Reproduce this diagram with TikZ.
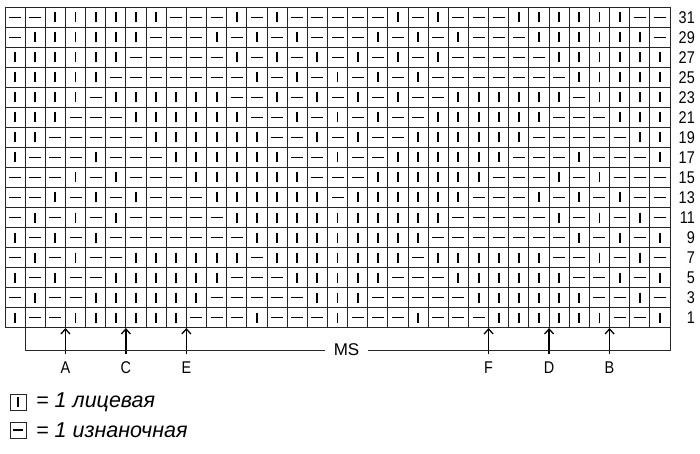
\documentclass[tikz,border=0pt]{standalone}
\usepackage{fontspec}
\setmainfont[FakeStretch=0.85]{Liberation Sans}
\newfontfamily\widefont{Liberation Sans}
\usetikzlibrary{arrows.meta}
\begin{document}
\begin{tikzpicture}[x=1pt,y=-1pt,
  gridline/.style={line width=0.9pt, draw=black!85},
  sym/.style={line width=1.9pt, draw=black},
  lbl/.style={font=\fontsize{17}{17}\selectfont, inner sep=0pt},
  legtxt/.style={font=\widefont\fontsize{21.5}{21.5}\selectfont\itshape, inner sep=0pt, anchor=west},
  arr/.style={line width=1.3pt, -{Straight Barb[length=5pt,width=9pt]}},
  brk/.style={line width=0.9pt, draw=black!85},
  legbox/.style={draw=black!85, line width=0.9pt, minimum width=16pt, minimum height=16pt, inner sep=0pt}
]
\useasboundingbox (0,0) rectangle (700,454);
\def\w{20.1515}
% chart symbols (top row = row 31)
\foreach \lst [count=\i from 0] in {
 {p,p,k,k,k,k,k,k,p,p,p,k,p,k,p,p,p,p,p,k,p,k,p,p,p,k,k,k,k,k,k,p,p},
 {p,k,k,k,k,k,k,p,p,p,k,p,k,p,k,p,p,p,k,p,k,p,k,p,p,p,k,k,k,k,k,k,p},
 {k,k,k,k,k,k,p,p,p,p,p,k,p,k,p,k,p,k,p,k,p,k,p,p,p,p,p,k,k,k,k,k,k},
 {k,k,k,k,k,p,p,p,p,p,p,p,k,p,k,p,k,p,k,p,k,p,p,p,p,p,p,p,k,k,k,k,k},
 {k,k,k,k,p,k,k,k,k,k,k,p,p,k,p,k,p,k,p,k,p,p,k,k,k,k,k,k,p,k,k,k,k},
 {k,k,k,p,p,p,k,k,k,k,k,k,p,p,k,p,k,p,k,p,p,k,k,k,k,k,k,p,p,p,k,k,k},
 {k,k,p,p,p,p,p,k,k,k,k,k,k,p,p,k,p,k,p,p,k,k,k,k,k,k,p,p,p,p,p,k,k},
 {k,p,p,p,k,p,p,p,k,k,k,k,k,k,p,p,k,p,p,k,k,k,k,k,k,p,p,p,k,p,p,p,k},
 {p,p,p,k,p,k,p,p,p,k,k,k,k,k,k,p,p,p,k,k,k,k,k,k,p,p,p,k,p,k,p,p,p},
 {p,p,k,p,k,p,k,p,p,p,k,k,k,k,k,k,p,k,k,k,k,k,k,p,p,p,k,p,k,p,k,p,p},
 {p,k,p,k,p,k,p,p,p,p,p,k,k,k,k,k,k,k,k,k,k,k,p,p,p,p,p,k,p,k,p,k,p},
 {k,p,k,p,k,p,p,p,p,p,p,p,k,k,k,k,k,k,k,k,k,p,p,p,p,p,p,p,k,p,k,p,k},
 {p,k,p,k,p,p,k,k,k,k,k,k,p,k,k,k,k,k,k,k,p,k,k,k,k,k,k,p,p,k,p,k,p},
 {k,p,k,p,p,k,k,k,k,k,k,p,p,p,k,k,k,k,k,p,p,p,k,k,k,k,k,k,p,p,k,p,k},
 {p,k,p,p,k,k,k,k,k,k,p,p,p,p,p,k,k,k,p,p,p,p,p,k,k,k,k,k,k,p,p,k,p},
 {k,p,p,k,k,k,k,k,k,p,p,p,k,p,p,p,k,p,p,p,k,p,p,p,k,k,k,k,k,k,p,p,k}}{
  \foreach \s [count=\c] in \lst {
    \pgfmathsetmacro\xc{5+\w*(\c-0.5)}
    \pgfmathsetmacro\yc{17.5+20*\i}
    \if\s k
      \draw[sym] (\xc,\yc-5) -- (\xc,\yc+5);
    \else
      \draw[sym] (\xc-6,\yc) -- (\xc+6,\yc);
    \fi
  }
}
% grid lines
\foreach \k in {0,...,33}{
  \pgfmathsetmacro\xx{5+\w*\k}
  \draw[gridline] (\xx,7.5) -- (\xx,327.5);
}
\foreach \j in {0,...,16}{
  \pgfmathsetmacro\yy{7.5+20*\j}
  \draw[gridline] (5,\yy) -- (670,\yy);
}
% row numbers
\foreach \r [count=\i from 0] in {31,29,27,25,23,21,19,17,15,13,11,9,7,5,3,1}{
  \node[lbl, anchor=east] (row\r) at (695,18+20*\i) {\r};
}
% arrows and letters
\foreach \name/\k in {A/3,C/6,E/9,F/24,D/27,B/30}{
  \pgfmathsetmacro\xx{5+\w*\k}
  \coordinate (t\name) at (\xx,328);
  \coordinate (b\name) at (\xx,354);
  \draw[arr] (b\name) -- (t\name);
  \node[lbl] (l\name) at (\xx,368) {\name};
}
% MS bracket
\node[lbl, font=\widefont\fontsize{17}{17}\selectfont] (MS) at (346.5,350) {MS};
\coordinate (bl0) at (5+\w,327.5);
\coordinate (bl1) at (5+\w,350);
\coordinate (br0) at (670,327.5);
\coordinate (br1) at (670,350);
\draw[brk] (bl0) -- (bl1) -- ([xshift=-9pt]MS.west);
\draw[brk] ([xshift=9pt]MS.east) -- (br1) -- (br0);
% legend
\node[legbox] (kbox) at (18,402) {};
\draw[sym] ([yshift=-5pt]kbox.center) -- ([yshift=5pt]kbox.center);
\node[legtxt] (ktxt) at (36,402) {= 1 лицевая};
\node[legbox] (pbox) at (18,430) {};
\draw[sym] ([xshift=-5pt]pbox.center) -- ([xshift=5pt]pbox.center);
\node[legtxt] (ptxt) at (36,430) {= 1 изнаночная};
\end{tikzpicture}
\end{document}
